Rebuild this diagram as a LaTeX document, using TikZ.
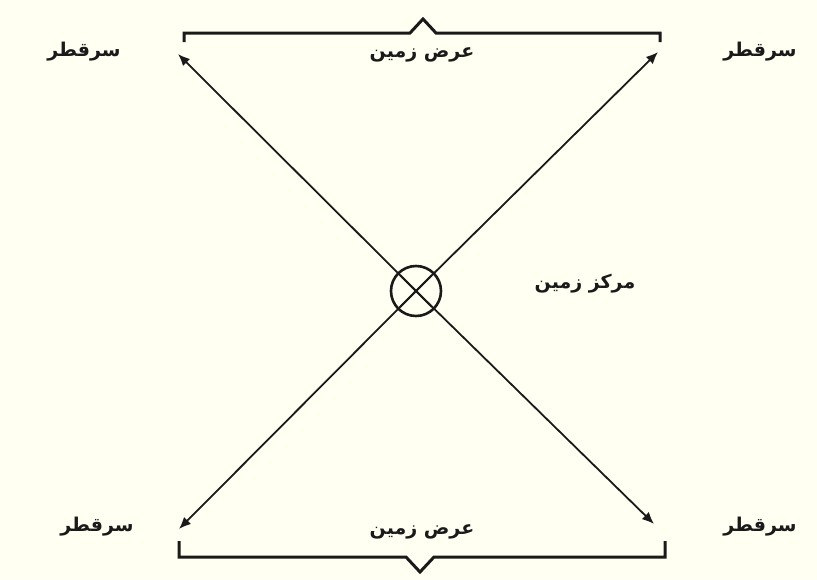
\documentclass[tikz,border=0pt]{standalone}
\usepackage{fontspec}
\newfontfamily\arabicfont[Script=Arabic]{DejaVu Sans}
\TeXXeTstate=1
\usetikzlibrary{arrows.meta}
\definecolor{bg}{HTML}{FFFFF2}
\definecolor{ink}{HTML}{1A1A1A}
\begin{document}
\begin{tikzpicture}[x=1pt,y=-1pt,
  lbl/.style={font=\arabicfont\bfseries\fontsize{19}{22}\selectfont, text=ink, inner sep=0pt},
  ray/.style={draw=ink, line width=1.8pt, -{Latex[length=12pt,width=10pt]}},
  bracestyle/.style={draw=ink, line width=3pt, line join=miter}]
\fill[bg] (0,0) rectangle (817,579);
\useasboundingbox (0,0) rectangle (817,579);
% centre
\node[draw=ink, line width=2.6pt, circle, minimum size=50pt, inner sep=0pt] (c) at (416,291) {};
\coordinate (tl) at (178,54);
\coordinate (tr) at (658,52);
\coordinate (bl) at (179,529);
\coordinate (br) at (654,524);
\draw[ray] (c.center) -- (tl);
\draw[ray] (c.center) -- (tr);
\draw[ray] (c.center) -- (bl);
\draw[ray] (c.center) -- (br);
\draw[draw=ink, line width=2pt] (c.center) ++(-16,-16) -- ++(32,32);
\draw[draw=ink, line width=2pt] (c.center) ++(16,-16) -- ++(-32,32);
% braces
\coordinate (b1a) at (184,42);
\coordinate (b1b) at (660,42);
\draw[bracestyle] (b1a) -- (184,33) -- (410,33) -- (423,19) -- (436,33) -- (660,33) -- (b1b);
\coordinate (b2a) at (179,541);
\coordinate (b2b) at (665,541);
\draw[bracestyle] (b2a) -- (179,557) -- (406,557) -- (420,572) -- (434,557) -- (665,557) -- (b2b);
% labels
\node[lbl] (ltl) at (84,52) {\beginR سرقطر\endR};
\node[lbl] (ltr) at (760,52) {\beginR سرقطر\endR};
\node[lbl] (lbl1) at (97,527) {\beginR سرقطر\endR};
\node[lbl] (lbr) at (760,527) {\beginR سرقطر\endR};
\node[lbl] (wt) at (422,55) {\beginR عرض زمین\endR};
\node[lbl] (wb) at (422,532) {\beginR عرض زمین\endR};
\node[lbl] (mc) at (585,284) {\beginR مرکز زمین\endR};
\end{tikzpicture}
\end{document}
